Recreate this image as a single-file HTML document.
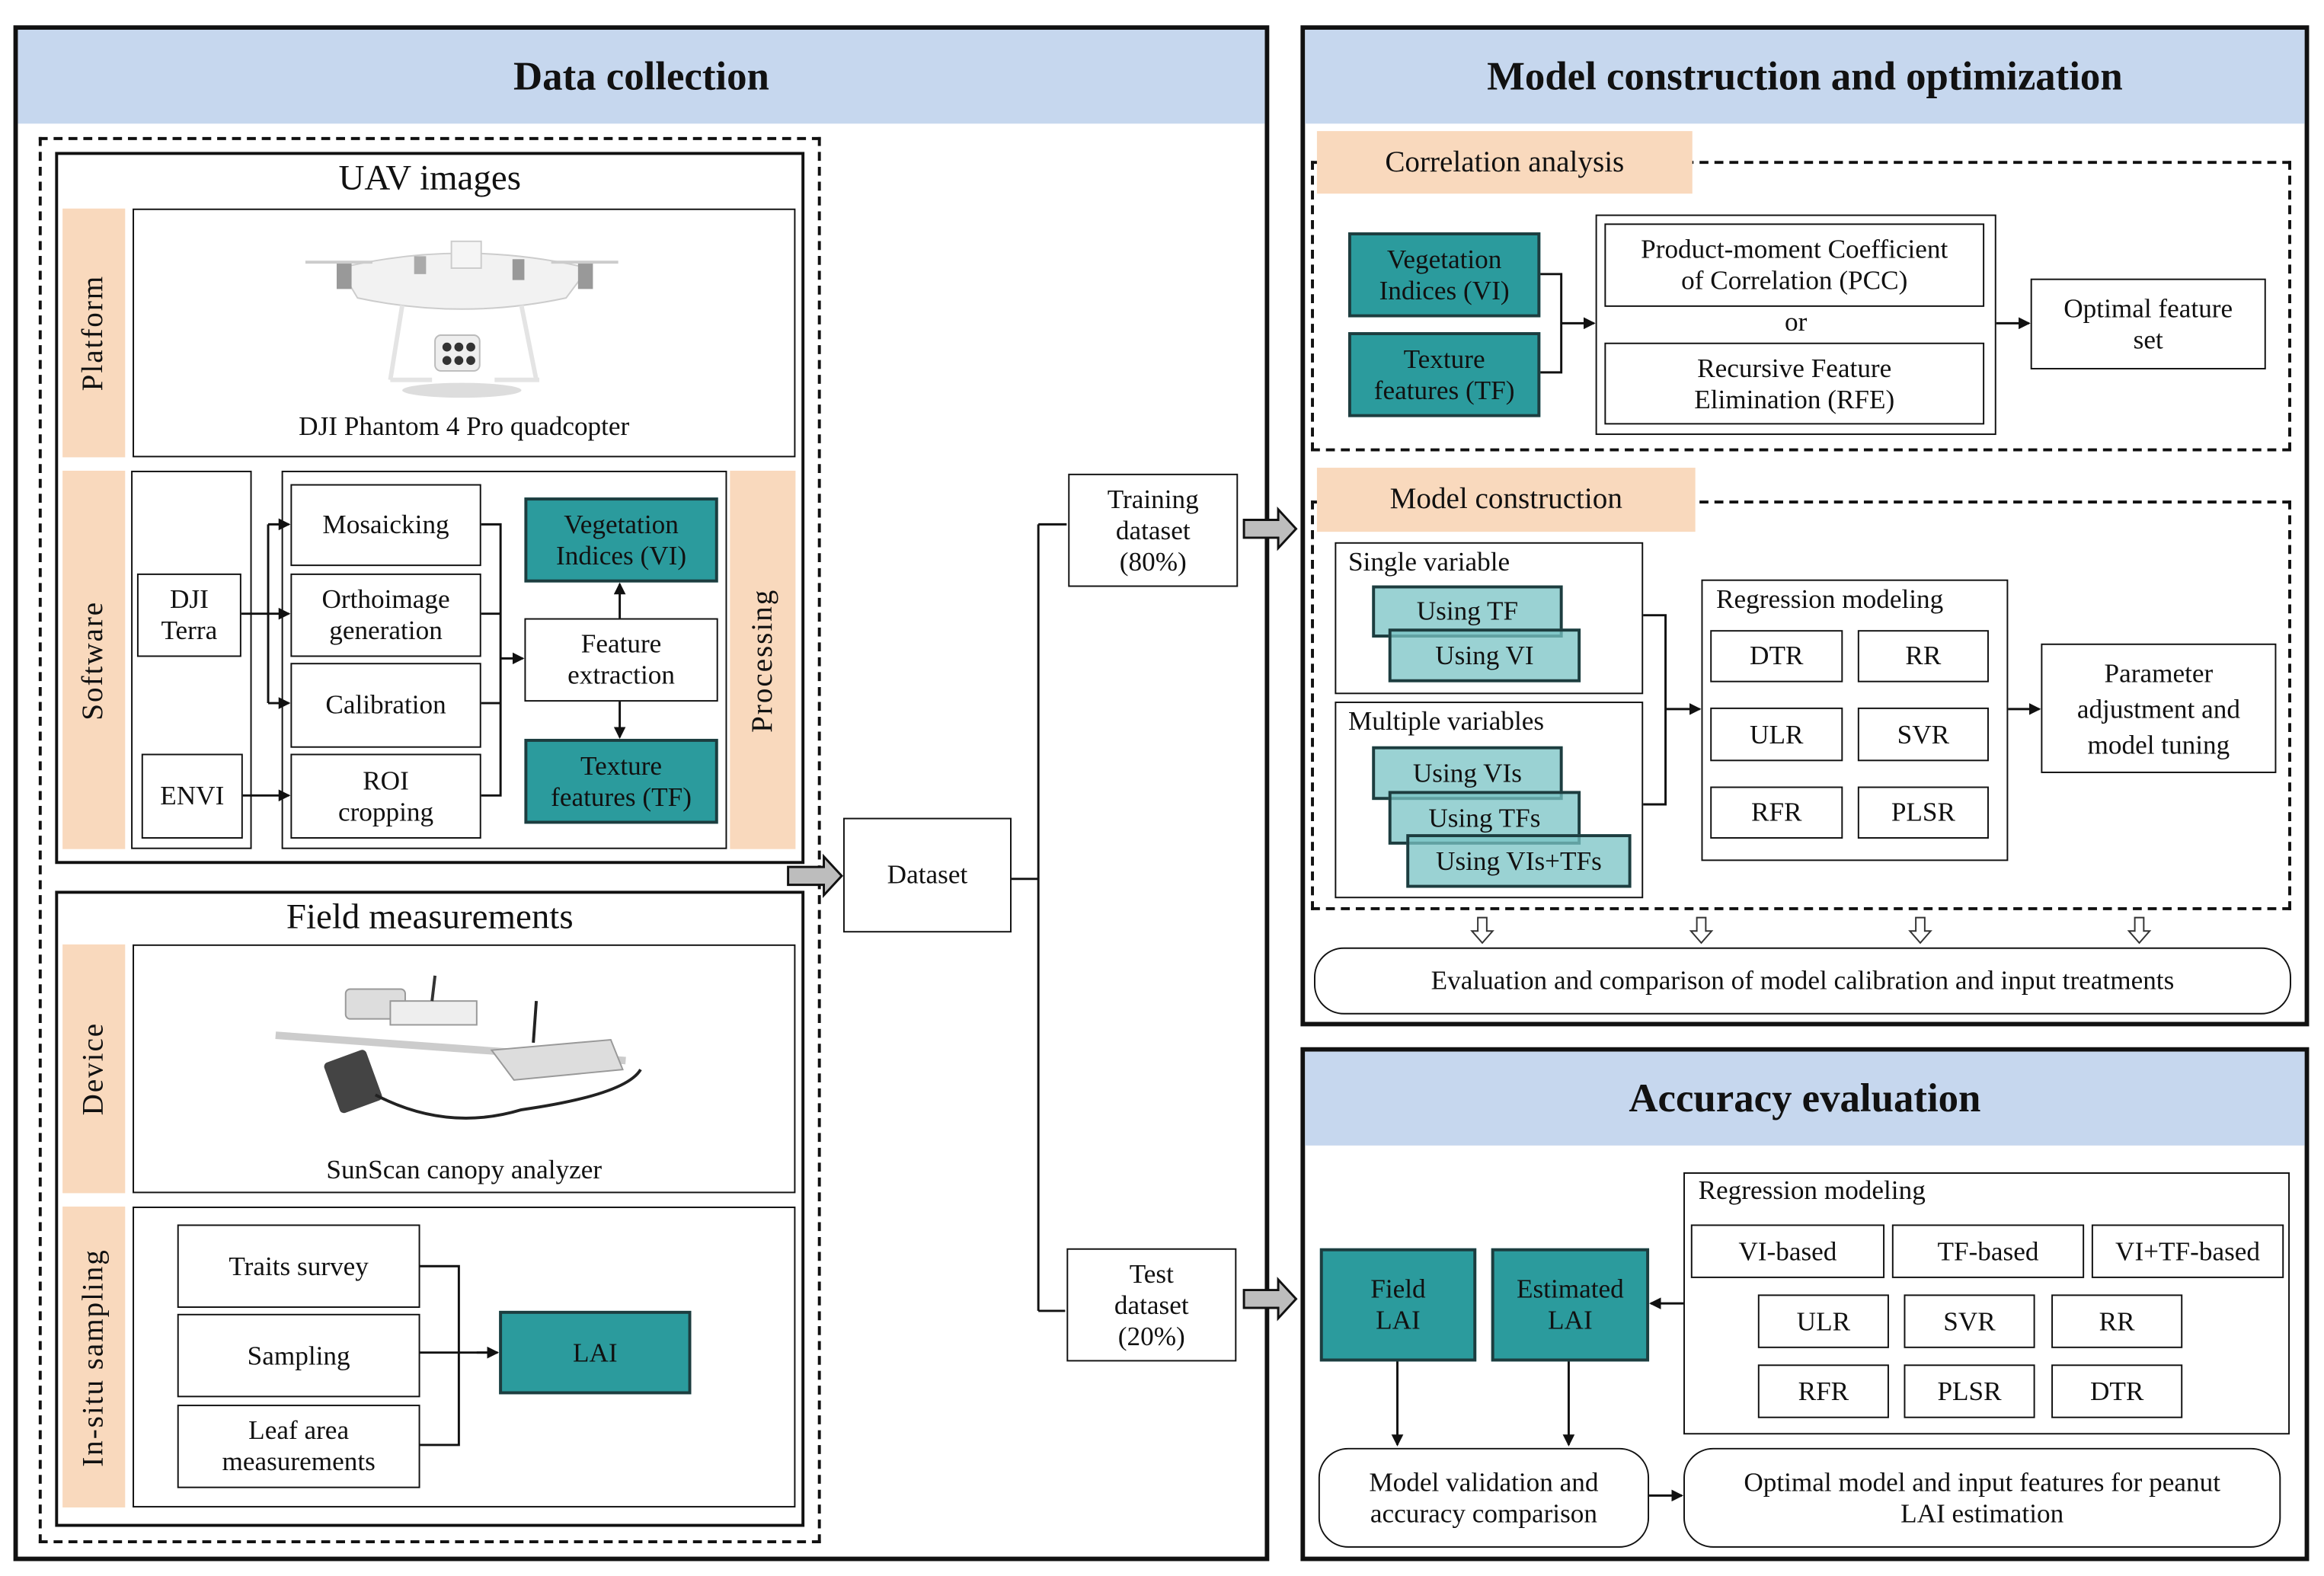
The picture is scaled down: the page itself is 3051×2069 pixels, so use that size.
<!DOCTYPE html>
<html><head><meta charset="utf-8"><style>
html,body{margin:0;padding:0;background:#fff;}
body{width:3051px;height:2069px;overflow:hidden;}
#c{position:absolute;left:0;top:0;width:1560px;height:1058px;transform:scale(1.95577,1.95558);transform-origin:0 0;font-family:"Liberation Serif",serif;color:#111;}
#c div{position:absolute;box-sizing:border-box;}
.b{border:1.5px solid #111;background:#fff;display:flex;align-items:center;justify-content:center;text-align:center;font-size:18px;line-height:21px;}
.t{background:#2b9b9d;border:2px solid #1d3d3f;}
.lt{background:rgba(120,195,196,0.75);border:2px solid #1d3d3f;}
.pan{border:3px solid #111;}
.hd{background:#c6d7ee;font-weight:bold;font-size:27px;display:flex;align-items:center;justify-content:center;}
.pe{background:#f9d9bd;}
.v{display:flex;align-items:center;justify-content:center;}
.v span{transform:rotate(-90deg);white-space:nowrap;font-size:20px;letter-spacing:1px;}
.dash{border:2px dashed #111;}
.lbl{font-size:18px;white-space:nowrap;}
.r{border-radius:20px;}
svg{position:absolute;left:0;top:0;}
</style></head><body><div id="c">

<!-- Left panel -->
<div class="pan" style="left:9px;top:17px;width:843px;height:1031px;"></div>
<div class="hd" style="left:12px;top:20px;width:837px;height:63px;">Data collection</div>
<div class="dash" style="left:26px;top:92px;width:525px;height:944px;"></div>
<div style="left:37px;top:102px;width:503px;height:478px;border:2px solid #111;"></div>
<div class="lbl" style="left:37px;top:107px;width:503px;text-align:center;font-size:24px;">UAV images</div>
<div class="pe v" style="left:42px;top:140px;width:42px;height:167px;"><span>Platform</span></div>
<div style="left:89px;top:140px;width:445px;height:167px;border:1.5px solid #111;"></div>
<div class="lbl" style="left:89px;top:276px;width:445px;text-align:center;">DJI Phantom 4 Pro quadcopter</div>

<div class="pe v" style="left:42px;top:316px;width:42px;height:254px;"><span>Software</span></div>
<div style="left:88px;top:316px;width:81px;height:254px;border:1.5px solid #111;"></div>
<div class="b" style="left:92px;top:385px;width:70px;height:56px;">DJI<br>Terra</div>
<div class="b" style="left:95px;top:506px;width:68px;height:57px;">ENVI</div>
<div style="left:189px;top:316px;width:299px;height:254px;border:1.5px solid #111;"></div>
<div class="b" style="left:195px;top:325px;width:128px;height:55px;">Mosaicking</div>
<div class="b" style="left:195px;top:385px;width:128px;height:56px;">Orthoimage<br>generation</div>
<div class="b" style="left:195px;top:445px;width:128px;height:57px;">Calibration</div>
<div class="b" style="left:195px;top:506px;width:128px;height:57px;">ROI<br>cropping</div>
<div class="b t" style="left:352px;top:334px;width:130px;height:57px;">Vegetation<br>Indices (VI)</div>
<div class="b" style="left:352px;top:415px;width:130px;height:56px;">Feature<br>extraction</div>
<div class="b t" style="left:352px;top:496px;width:130px;height:57px;">Texture<br>features (TF)</div>
<div class="pe v" style="left:490px;top:316px;width:44px;height:254px;"><span>Processing</span></div>

<div style="left:37px;top:598px;width:503px;height:427px;border:2px solid #111;"></div>
<div class="lbl" style="left:37px;top:603px;width:503px;text-align:center;font-size:24px;">Field measurements</div>
<div class="pe v" style="left:42px;top:634px;width:42px;height:167px;"><span>Device</span></div>
<div style="left:89px;top:634px;width:445px;height:167px;border:1.5px solid #111;"></div>
<div class="lbl" style="left:89px;top:775px;width:445px;text-align:center;">SunScan canopy analyzer</div>
<div class="pe v" style="left:42px;top:810px;width:42px;height:202px;"><span>In-situ sampling</span></div>
<div style="left:89px;top:810px;width:445px;height:202px;border:1.5px solid #111;"></div>
<div class="b" style="left:119px;top:822px;width:163px;height:56px;">Traits survey</div>
<div class="b" style="left:119px;top:882px;width:163px;height:56px;">Sampling</div>
<div class="b" style="left:119px;top:943px;width:163px;height:56px;">Leaf area<br>measurements</div>
<div class="b t" style="left:335px;top:880px;width:129px;height:56px;">LAI</div>

<div class="b" style="left:566px;top:549px;width:113px;height:77px;">Dataset</div>
<div class="b" style="left:717px;top:318px;width:114px;height:76px;">Training<br>dataset<br>(80%)</div>
<div class="b" style="left:716px;top:838px;width:114px;height:76px;">Test<br>dataset<br>(20%)</div>

<!-- Right top panel -->
<div class="pan" style="left:873px;top:17px;width:677px;height:672px;"></div>
<div class="hd" style="left:876px;top:20px;width:671px;height:63px;">Model construction and optimization</div>
<div class="dash" style="left:880px;top:108px;width:658px;height:195px;"></div>
<div class="pe lbl v" style="left:884px;top:88px;width:252px;height:42px;font-size:20px;">Correlation analysis</div>
<div class="b t" style="left:905px;top:156px;width:129px;height:57px;">Vegetation<br>Indices (VI)</div>
<div class="b t" style="left:905px;top:223px;width:129px;height:57px;">Texture<br>features (TF)</div>
<div style="left:1071px;top:144px;width:269px;height:148px;border:1.5px solid #111;"></div>
<div class="b" style="left:1077px;top:150px;width:255px;height:56px;">Product-moment Coefficient<br>of Correlation (PCC)</div>
<div class="lbl" style="left:1071px;top:206px;width:269px;text-align:center;">or</div>
<div class="b" style="left:1077px;top:230px;width:255px;height:55px;">Recursive Feature<br>Elimination (RFE)</div>
<div class="b" style="left:1363px;top:187px;width:158px;height:61px;">Optimal feature<br>set</div>

<div class="dash" style="left:880px;top:336px;width:658px;height:275px;"></div>
<div class="pe lbl v" style="left:884px;top:314px;width:254px;height:43px;font-size:20px;">Model construction</div>
<div style="left:896px;top:364px;width:207px;height:102px;border:1.5px solid #111;background:#fff;"></div>
<div class="lbl" style="left:905px;top:367px;">Single variable</div>
<div class="b lt" style="left:921px;top:393px;width:128px;height:35px;">Using TF</div>
<div class="b lt" style="left:932px;top:422px;width:129px;height:36px;">Using VI</div>
<div style="left:896px;top:471px;width:207px;height:132px;border:1.5px solid #111;"></div>
<div class="lbl" style="left:905px;top:474px;">Multiple variables</div>
<div class="b lt" style="left:921px;top:501px;width:128px;height:36px;">Using VIs</div>
<div class="b lt" style="left:932px;top:531px;width:129px;height:36px;">Using TFs</div>
<div class="b lt" style="left:944px;top:560px;width:151px;height:36px;">Using VIs+TFs</div>
<div style="left:1142px;top:389px;width:206px;height:189px;border:1.5px solid #111;"></div>
<div class="lbl" style="left:1152px;top:392px;">Regression modeling</div>
<div class="b" style="left:1148px;top:423px;width:89px;height:35px;">DTR</div>
<div class="b" style="left:1247px;top:423px;width:88px;height:35px;">RR</div>
<div class="b" style="left:1148px;top:475px;width:89px;height:36px;">ULR</div>
<div class="b" style="left:1247px;top:475px;width:88px;height:36px;">SVR</div>
<div class="b" style="left:1148px;top:528px;width:89px;height:35px;">RFR</div>
<div class="b" style="left:1247px;top:528px;width:88px;height:35px;">PLSR</div>
<div class="b" style="left:1370px;top:432px;width:158px;height:87px;line-height:24px;">Parameter<br>adjustment and<br>model tuning</div>
<div class="b r" style="left:882px;top:636px;width:656px;height:45px;">Evaluation and comparison of model calibration and input treatments</div>

<!-- Right bottom panel -->
<div class="pan" style="left:873px;top:703px;width:677px;height:345px;"></div>
<div class="hd" style="left:876px;top:706px;width:671px;height:63px;">Accuracy evaluation</div>
<div style="left:1130px;top:787px;width:407px;height:176px;border:1.5px solid #111;"></div>
<div class="lbl" style="left:1140px;top:789px;">Regression modeling</div>
<div class="b" style="left:1135px;top:822px;width:130px;height:36px;">VI-based</div>
<div class="b" style="left:1270px;top:822px;width:129px;height:36px;">TF-based</div>
<div class="b" style="left:1404px;top:822px;width:129px;height:36px;">VI+TF-based</div>
<div class="b" style="left:1180px;top:869px;width:88px;height:36px;">ULR</div>
<div class="b" style="left:1278px;top:869px;width:88px;height:36px;">SVR</div>
<div class="b" style="left:1377px;top:869px;width:88px;height:36px;">RR</div>
<div class="b" style="left:1180px;top:916px;width:88px;height:36px;">RFR</div>
<div class="b" style="left:1278px;top:916px;width:88px;height:36px;">PLSR</div>
<div class="b" style="left:1377px;top:916px;width:88px;height:36px;">DTR</div>
<div class="b t" style="left:886px;top:838px;width:105px;height:76px;">Field<br>LAI</div>
<div class="b t" style="left:1001px;top:838px;width:106px;height:76px;">Estimated<br>LAI</div>
<div class="b r" style="left:885px;top:972px;width:222px;height:67px;">Model validation and<br>accuracy comparison</div>
<div class="b r" style="left:1130px;top:972px;width:401px;height:67px;">Optimal model and input features for peanut<br>LAI estimation</div>

<svg width="1560" height="1058" viewBox="0 0 1560 1058">
<defs><marker id="a" markerWidth="8" markerHeight="8" refX="7" refY="4" orient="auto" markerUnits="userSpaceOnUse"><path d="M0,0 L8,4 L0,8 z" fill="#111"/></marker></defs>
<g stroke="#111" stroke-width="1.5" fill="none">
<!-- software connectors -->
<path d="M162,412 H194" marker-end="url(#a)"/>
<path d="M180,352 V472"/>
<path d="M180,352 H194" marker-end="url(#a)"/>
<path d="M180,472 H194" marker-end="url(#a)"/>
<path d="M163,534 H194" marker-end="url(#a)"/>
<path d="M323,352 H336 V534 H323 M323,412 H336 M323,472 H336"/>
<path d="M336,442 H351" marker-end="url(#a)"/>
<path d="M416,415 V392" marker-end="url(#a)"/>
<path d="M416,471 V495" marker-end="url(#a)"/>
<!-- sampling -->
<path d="M282,850 H308 V970 H282 M282,908 H334" />
<path d="M320,908 H334" marker-end="url(#a)"/>
<!-- dataset -->
<path d="M679,590 H697 M697,352 V880 M697,352 H716 M697,880 H715"/>
<!-- correlation -->
<path d="M1034,184 H1048 V250 H1034 M1048,217 H1070" marker-end="url(#a)"/>
<path d="M1340,217 H1362" marker-end="url(#a)"/>
<!-- model construction -->
<path d="M1103,413 H1118 V540 H1103 M1118,476 H1141" marker-end="url(#a)"/>
<path d="M1348,476 H1369" marker-end="url(#a)"/>
<!-- accuracy -->
<path d="M1130,875 H1108" marker-end="url(#a)"/>
<path d="M938,914 V970" marker-end="url(#a)"/>
<path d="M1053,914 V970" marker-end="url(#a)"/>
<path d="M1107,1004 H1129" marker-end="url(#a)"/>
</g>
<!-- gray block arrows -->
<g fill="#bdbdbd" stroke="#111" stroke-width="1.5">
<path d="M529,582 H553 V575 L565,588 L553,601 V594 H529 Z"/>
<path d="M835,349 H858 V342 L870,355 L858,368 V361 H835 Z"/>
<path d="M835,866 H858 V859 L870,872 L858,885 V878 H835 Z"/>
</g>
<!-- hollow down arrows -->
<g fill="#fff" stroke="#333" stroke-width="1">
<path d="M992,616 H998 V625 H1002 L995,633 L988,625 H992 Z"/>
<path d="M1139,616 H1145 V625 H1149 L1142,633 L1135,625 H1139 Z"/>
<path d="M1286,616 H1292 V625 H1296 L1289,633 L1282,625 H1286 Z"/>
<path d="M1433,616 H1439 V625 H1443 L1436,633 L1429,625 H1433 Z"/>
</g>
<!-- drone -->
<g>
<ellipse cx="310" cy="262" rx="40" ry="5" fill="#ddd"/>
<path d="M228,180 Q310,160 395,180 L380,200 Q310,215 240,200 Z" fill="#f2f2f2" stroke="#ccc"/>
<rect x="303" y="162" width="20" height="18" fill="#f5f5f5" stroke="#ccc"/>
<rect x="226" y="176" width="10" height="18" fill="#999"/><rect x="388" y="176" width="10" height="18" fill="#999"/>
<rect x="278" y="172" width="8" height="12" fill="#aaa"/><rect x="344" y="174" width="8" height="14" fill="#999"/>
<path d="M205,176 H250 M370,176 H415" stroke="#ccc" stroke-width="2"/>
<path d="M270,205 L262,255 M350,205 L360,255 M262,255 H290 M332,255 H362" stroke="#e4e4e4" stroke-width="3" fill="none"/>
<rect x="292" y="225" width="30" height="24" rx="4" fill="#eee" stroke="#bbb"/>
<g fill="#333"><circle cx="300" cy="233" r="3"/><circle cx="308" cy="233" r="3"/><circle cx="316" cy="233" r="3"/><circle cx="300" cy="242" r="3"/><circle cx="308" cy="242" r="3"/><circle cx="316" cy="242" r="3"/></g>
</g>
<!-- sunscan -->
<g>
<rect x="232" y="664" width="40" height="20" rx="3" fill="#ddd" stroke="#999"/>
<rect x="262" y="672" width="58" height="16" fill="#eee" stroke="#999"/>
<line x1="290" y1="672" x2="292" y2="655" stroke="#333" stroke-width="2"/>
<path d="M185,695 L420,712" stroke="#ccc" stroke-width="5"/>
<path d="M330,705 L410,698 L418,718 L345,725 Z" fill="#ddd" stroke="#999"/>
<line x1="358" y1="700" x2="360" y2="672" stroke="#222" stroke-width="2"/>
<rect x="222" y="708" width="30" height="36" rx="3" fill="#444" transform="rotate(-20 237 726)"/>
<path d="M252,735 Q300,760 350,745 Q420,735 430,718" stroke="#222" stroke-width="2" fill="none"/>
</g>
</svg>
</div></body></html>
